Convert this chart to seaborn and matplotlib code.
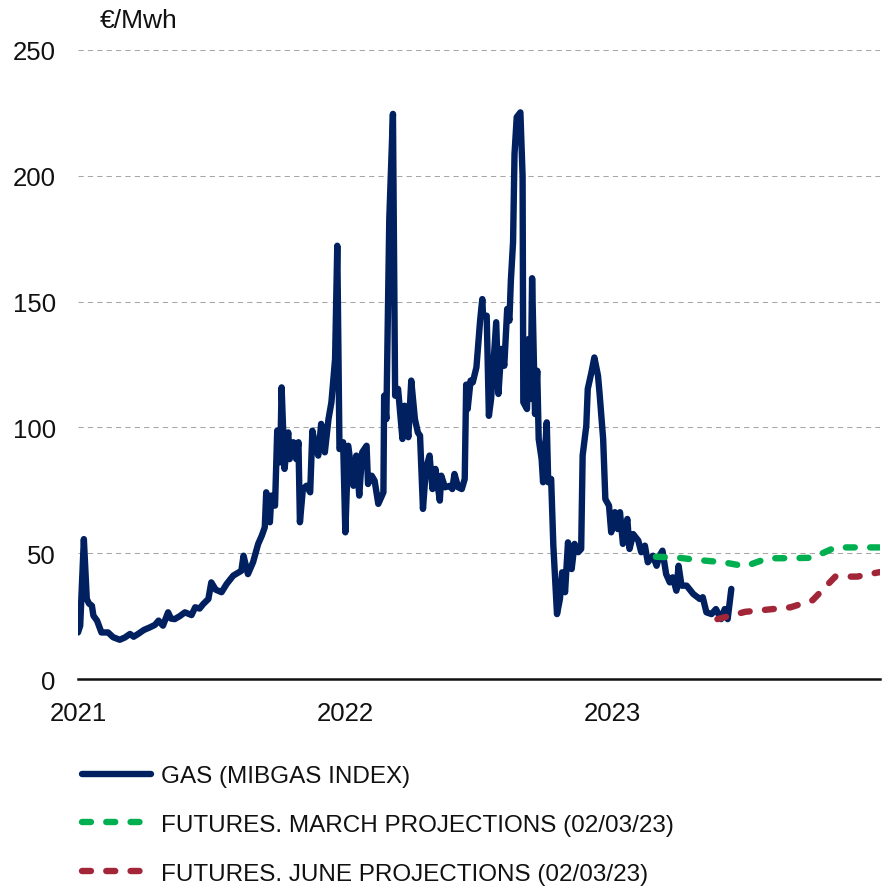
import pandas as pd
import matplotlib
matplotlib.use("Agg")
import matplotlib.pyplot as plt
import seaborn as sns

START = pd.Timestamp("2021-01-01")

# MIBGAS index (EUR/MWh); days counted from 1 Jan 2021
gas_day = [
    0, 3, 8, 12, 15, 19, 21, 26, 32, 41, 48, 57, 64, 71, 76, 82, 90, 98, 105, 110,
    116, 123, 127, 132, 139, 146, 155, 160, 166, 171, 178, 182, 188, 196, 203, 212,
    223, 226, 232, 239, 246, 251, 255, 257, 262, 264, 269, 272, 276, 278, 282, 287,
    289, 294, 298, 301, 303, 307, 312, 317, 320, 323, 328, 332, 337, 342, 346, 351,
    354, 357, 362, 365, 369, 376, 380, 384, 388, 394, 396, 401, 405, 410, 417, 418,
    421, 425, 427, 430, 433, 437, 443, 446, 451, 455, 460, 464, 467, 471, 475, 480,
    484, 488, 494, 496, 501, 508, 511, 514, 519, 524, 528, 530, 532, 536, 539, 544,
    549, 552, 553, 558, 561, 564, 571, 574, 578, 582, 586, 589, 591, 594, 596, 599,
    604, 607, 608, 613, 615, 618, 620, 624, 627, 629, 633, 635, 640, 642, 646, 649,
    654, 658, 661, 665, 669, 674, 678, 683, 687, 689, 694, 696, 701, 705, 710, 712,
    717, 720, 725, 728, 733, 737, 740, 744, 750, 753, 758, 765, 769, 774, 778, 785,
    790, 794, 798, 803, 808, 812, 817, 820, 824, 831, 840, 849, 853, 858, 865, 871,
    878, 883, 887, 892,
]
gas_price = [
    18.5, 21.2, 55.6, 31.8, 30.0, 29.1, 25.2, 23.2, 18.5, 18.5, 16.6, 15.6, 16.5, 17.9, 16.8, 17.9, 19.5, 20.5, 21.5, 23.2,
    21.2, 26.5, 24.0, 23.8, 25.0, 26.5, 25.4, 28.5, 28.0, 29.8, 31.8, 38.4, 35.5, 34.5, 37.8, 41.1,
    43.0, 49.0, 41.7, 46.4, 53.7, 57.0, 60.3, 74.2, 62.3, 72.9, 68.9, 98.7, 86.1, 115.9, 83.5, 98.0,
    87.4, 94.1, 87.4, 94.1, 62.3, 75.5, 76.8, 74.2, 98.7, 94.1, 88.8, 101.4, 90.1, 103.3, 110.0, 127.2,
    172.2, 91.4, 94.1, 58.3, 92.7, 76.8, 88.8, 72.9, 90.1, 92.7, 77.5, 80.8, 78.8, 69.6, 74.2, 112.6,
    103.3, 182.8, 200.0, 224.6, 112.6, 115.3, 95.4, 108.6, 96.1, 118.6, 103.3, 98.0, 96.7, 67.6, 83.5, 88.8,
    75.5, 83.5, 70.9, 80.8, 76.2, 76.8, 75.5, 81.5, 76.2, 75.5, 79.5, 117.0, 107.3, 118.6, 117.9, 123.9,
    142.4, 151.0, 144.4, 144.4, 104.6, 111.3, 141.8, 113.3, 131.2, 124.5, 147.1, 142.4, 158.3, 173.6, 208.7, 223.3,
    225.2, 200.0, 110.0, 107.3, 135.1, 111.3, 159.3, 105.3, 122.5, 95.4, 87.4, 78.2, 102.0, 78.2, 79.5, 53.0,
    25.8, 31.8, 42.4, 34.5, 54.3, 43.7, 53.7, 50.4, 51.7, 88.8, 100.7, 115.3, 121.9, 127.8, 120.5, 113.9,
    95.4, 71.5, 68.9, 58.3, 66.3, 59.6, 66.3, 53.7, 63.6, 51.7, 57.6, 55.0, 50.4, 53.0, 46.4, 49.0,
    45.0, 49.0, 51.0, 41.7, 38.4, 40.4, 35.1, 45.0, 37.1, 37.1, 33.8, 31.8, 32.5, 26.5, 25.8, 27.8,
    23.8, 27.8, 23.8, 35.8,
]

# Futures curves
march_dates = ["2023-03-01", "2023-04-01", "2023-05-01", "2023-06-01", "2023-07-01", "2023-08-01",
               "2023-09-01", "2023-10-01", "2023-11-01", "2023-12-01", "2024-01-01"]
march_price = [48.6, 48.2, 47.2, 46.4, 44.8, 48.0, 48.0, 48.2, 52.3, 52.3, 52.3]

june_dates = ["2023-05-24", "2023-07-01", "2023-09-01", "2023-10-01", "2023-11-01", "2023-12-01",
              "2024-01-01"]
june_price = [23.8, 26.7, 28.5, 31.3, 40.7, 40.7, 42.5]

series_labels = ["GAS (MIBGAS INDEX)",
                 "FUTURES. MARCH PROJECTIONS (02/03/23)",
                 "FUTURES. JUNE PROJECTIONS (02/03/23)"]
year_labels = ["2021", "2022", "2023"]
y_ticks = [0, 50, 100, 150, 200, 250]
unit_label = "€/Mwh"

NAVY = "#002060"
GREEN = "#00B050"
RED = "#A32638"

sns.set_theme(style="white")
plt.rcParams["font.family"] = ["Liberation Sans", "DejaVu Sans"]

gas = pd.DataFrame({"date": START + pd.to_timedelta(gas_day, unit="D"), "price": gas_price})
march = pd.DataFrame({"date": pd.to_datetime(march_dates), "price": march_price})
june = pd.DataFrame({"date": pd.to_datetime(june_dates), "price": june_price})

W, H = 885, 887
fig = plt.figure(figsize=(W / 100, H / 100), dpi=100)
ax = fig.add_axes([78 / W, 1 - 680 / H, (880 - 78) / W, (680 - 51) / H])

LW = 4.6
sns.lineplot(data=gas, x="date", y="price", ax=ax, color=NAVY, linewidth=LW,
             label=series_labels[0], estimator=None)
sns.lineplot(data=march, x="date", y="price", ax=ax, color=GREEN, linewidth=LW,
             label=series_labels[1], estimator=None)
sns.lineplot(data=june, x="date", y="price", ax=ax, color=RED, linewidth=LW,
             label=series_labels[2], estimator=None)

lines = ax.get_lines()
lines[0].set_solid_joinstyle("round")
lines[0].set_solid_capstyle("round")
for ln in lines[1:]:
    ln.set_linestyle((0, (1.4, 2.4)))
    ln.set_dash_capstyle("round")
    ln.set_dash_joinstyle("round")
    ln.set_zorder(3)

ax.set_xlim(pd.Timestamp("2021-01-01"), pd.Timestamp("2024-01-01"))
ax.set_ylim(0, 250)
ax.set_xticks([pd.Timestamp(f"{y}-01-01") for y in year_labels])
ax.set_xticklabels(year_labels)
ax.set_yticks(y_ticks)
ax.set_yticklabels([str(v) for v in y_ticks])
ax.set_xlabel("")
ax.set_ylabel("")

ax.tick_params(axis="both", length=0, labelsize=18.5, colors="#111111")
ax.tick_params(axis="x", pad=16)
ax.tick_params(axis="y", pad=16)

for s in ["top", "right", "left"]:
    ax.spines[s].set_visible(False)
ax.spines["bottom"].set_color("#111111")
ax.spines["bottom"].set_linewidth(1.8)
ax.spines["bottom"].set_zorder(1)

ax.yaxis.grid(True, color="#A6A6A6", linewidth=0.75, linestyle=(0, (5, 4)))
ax.xaxis.grid(False)
ax.set_axisbelow(True)
ygrid = ax.get_ygridlines()
ygrid[0].set_visible(False)

fig.text(100 / W, 1 - 21 / H, unit_label, fontsize=19, color="#111111",
         ha="left", va="center")

handles, labels = ax.get_legend_handles_labels()
if ax.legend_ is not None:
    ax.legend_.remove()
leg = fig.legend(handles, labels, loc="upper left", bbox_to_anchor=(82 / W, 1 - 766 / H),
                 frameon=False, fontsize=17.5, handlelength=2.85, handletextpad=0.42,
                 labelspacing=1.1, borderpad=0, borderaxespad=0)
for t in leg.get_texts():
    t.set_color("#111111")

fig.savefig("out.png", dpi=100, facecolor="white")
